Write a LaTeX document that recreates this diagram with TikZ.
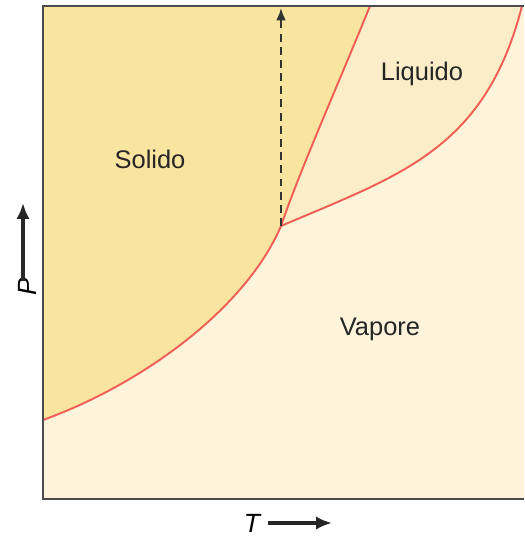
\documentclass[tikz,border=0pt]{standalone}
\usepackage{fontspec}
\setmainfont{Liberation Sans}
\usetikzlibrary{positioning, arrows.meta, calc}
\definecolor{solidfill}{RGB}{249,228,160}
\definecolor{liqfill}{RGB}{251,237,199}
\definecolor{vapfill}{RGB}{253,244,219}
\definecolor{phaseline}{RGB}{240,95,85}
\definecolor{boxline}{RGB}{75,75,75}

\begin{document}
\begin{tikzpicture}[
  x=0.02cm, y=-0.02cm,
  region/.style={font=\fontsize{14.5}{17}\selectfont, text=black!85},
  axlbl/.style={font=\fontsize{15}{18}\selectfont\itshape, inner sep=1pt},
  curve/.style={draw=phaseline, line width=1.1pt},
  axarrow/.style={-{Latex[length=9pt, width=7.5pt]}, line width=2.3pt, draw=black!85},
  path/.style={-{Latex[length=7pt, width=5.5pt]}, line width=1.1pt,
               dash pattern=on 4.5pt off 3pt, draw=black!80}
]
\useasboundingbox (0,0) rectangle (524,537);

% ===== KEY POINTS =====
\coordinate (tp) at (281,226);   % triple point
\coordinate (sub0) at (43,420);
\coordinate (fus0) at (370,6);
\coordinate (vap0) at (522,6);
\coordinate (top) at (281,8);

% ===== REGIONS =====
\fill[vapfill] (43,6) rectangle (524,499);
\fill[solidfill] (43,6) -- (fus0) .. controls (340,80) and (300,170) .. (tp)
  .. controls (245,310) and (140,385) .. (sub0) -- cycle;
\fill[liqfill] (fus0) -- (vap0) .. controls (485,150) and (400,175) .. (tp)
  .. controls (300,170) and (340,80) .. (fus0) -- cycle;

% ===== PHASE LINES =====
\draw[curve] (sub0) .. controls (140,385) and (245,310) .. (tp);
\draw[curve] (tp) .. controls (300,170) and (340,80) .. (fus0);
\draw[curve] (tp) .. controls (400,175) and (485,150) .. (vap0);

% ===== FRAME =====
\draw[boxline, line width=1.2pt] (524,6) -- (43,6) -- (43,499) -- (524,499);

% ===== PATH =====
\draw[path] (tp) -- (top);

% ===== LABELS =====
\node[region] (solido) at (150,159) {Solido};
\node[region] (liquido) at (422,74) {Liquido};
\node[region] (vapore) at (380,329) {Vapore};

% ===== AXES =====
\node[axlbl] (tlbl) at (252,523) {T};
\coordinate (tstart) at (268,523);
\coordinate (tend) at (332,523);
\draw[axarrow] (tstart) -- (tend);
\node[axlbl, rotate=90] (plbl) at (27,287) {P};
\coordinate (pstart) at (23,281);
\coordinate (pend) at (23,203);
\draw[axarrow] (pstart) -- (pend);

\end{tikzpicture}
\end{document}
